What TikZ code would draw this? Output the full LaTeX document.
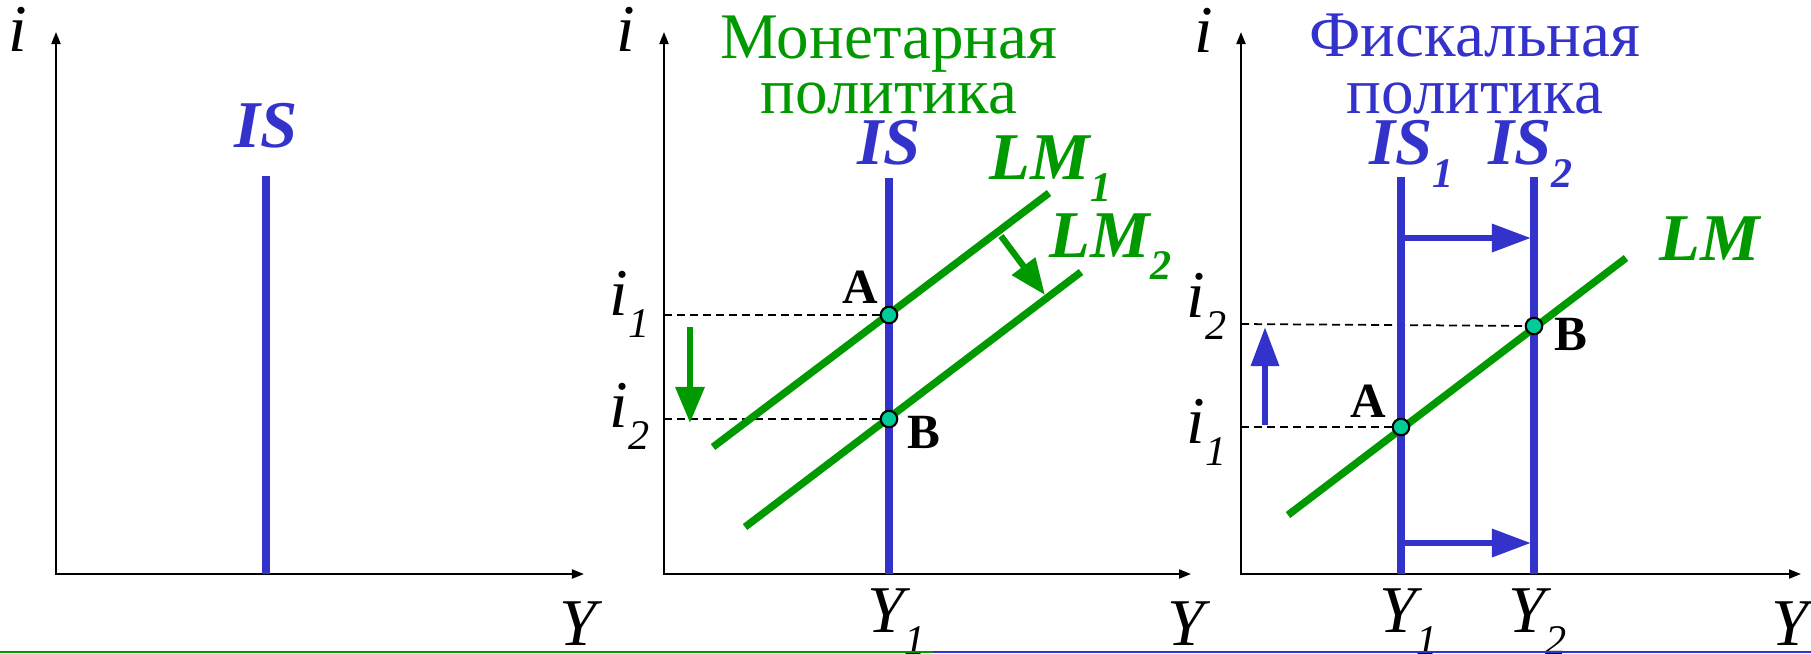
\documentclass[tikz,border=0pt]{standalone}
\usepackage{fontspec}
\setmainfont{Liberation Serif}
\usetikzlibrary{arrows.meta, positioning}
\definecolor{isblue}{HTML}{3333CC}
\definecolor{lmgreen}{HTML}{009900}
\definecolor{eqfill}{HTML}{00CC99}
\newcommand{\lowsub}[1]{\rlap{\smash{\raisebox{-6.5pt}{\fontsize{12}{12}\selectfont #1}}}}
\tikzset{
  axes/.style     = {{Triangle[length=1.2mm, width=0.9mm]}-{Triangle[length=1.2mm, width=0.9mm]}, line width=0.6pt},
  iscurve/.style  = {draw=isblue, line width=2pt},
  lmcurve/.style  = {draw=lmgreen, line width=2.1pt},
  guide/.style    = {dash pattern=on 0.8mm off 0.5mm, line width=0.5pt},
  isshift/.style  = {-{Triangle[length=3.9mm, width=2.7mm]}, draw=isblue, line width=1.8pt},
  lmshift/.style  = {-{Triangle[length=3.6mm, width=2.8mm]}, draw=lmgreen, line width=1.8pt},
  eqpt/.style     = {circle, draw=black, fill=eqfill, line width=0.6pt, inner sep=0pt, minimum size=1.65mm},
  axlbl/.style    = {font=\fontsize{19}{19}\selectfont\itshape, inner sep=0pt, anchor=base},
  curvelbl/.style = {font=\fontsize{19}{19}\selectfont\bfseries\itshape, inner sep=0pt, anchor=base},
  ptlbl/.style    = {font=\fontsize{14}{14}\selectfont\bfseries, inner sep=0pt, anchor=base},
  title/.style    = {font=\fontsize{18.5}{18.5}\selectfont, inner sep=0pt, anchor=base},
}

\begin{document}
\begin{tikzpicture}[x=0.01cm, y=-0.01cm]
    \useasboundingbox (0,0) rectangle (1811,653);
    % left panel
    \coordinate (bt) at (56,32);
    \coordinate (br) at (584,574);
    \draw[axes] (bt) |- (br);
    \node[axlbl] (bilbl) at (18,51) {i};
    \node[axlbl] (bylbl) at (578,645) {Y};
    \coordinate (bistop) at (266,176);
    \coordinate (bisbot) at (266,574);
    \draw[iscurve] (bisbot) -- (bistop);
    \node[curvelbl, text=isblue, above=2.7mm of bistop] (bislbl) {IS};

    % monetary policy
    \coordinate (mt) at (664,32);
    \coordinate (mr) at (1191,574);
    \draw[axes] (mt) |- (mr);
    \node[axlbl] (milbl) at (626,51) {i};
    \node[axlbl] (mylbl) at (1186,645) {Y};
    \node[title, text=lmgreen] (mtitle) at (889,58) {Монетарная};
    \node[title, text=lmgreen] (mtitleb) at (889,113) {политика};
    \coordinate (mA) at (889,315);
    \coordinate (mB) at (889,419);
    \coordinate (mi1) at (664,315);
    \coordinate (mi2) at (664,419);
    \draw[guide] (mi1) -- (mA);
    \draw[guide] (mi2) -- (mB);
    \coordinate (mistop) at (889,178);
    \coordinate (misbot) at (889,574);
    \draw[iscurve] (misbot) -- (mistop);
    \node[curvelbl, text=isblue, above=1.2mm of mistop] (mislbl) {IS};
    \coordinate (mlm1a) at (713,447);
    \coordinate (mlm1b) at (1049,193);
    \coordinate (mlm2a) at (745,527);
    \coordinate (mlm2b) at (1081,272);
    \draw[lmcurve] (mlm1a) -- (mlm1b);
    \draw[lmcurve] (mlm2a) -- (mlm2b);
    \node[curvelbl, text=lmgreen] (mlm1lbl) at (1040,179) {LM\lowsub{1}};
    \node[curvelbl, text=lmgreen] (mlm2lbl) at (1100,257) {LM\lowsub{2}};
    \coordinate (mshfa) at (1001,236);
    \coordinate (mshfb) at (1045,295);
    \draw[lmshift] (mshfa) -- (mshfb);
    \coordinate (mdna) at (690,327);
    \coordinate (mdnb) at (690,423);
    \draw[lmshift] (mdna) -- (mdnb);
    \node[axlbl] (mi1lbl) at (619,315) {i\lowsub{1}};
    \node[axlbl] (mi2lbl) at (619,427) {i\lowsub{2}};
    \node[axlbl] (my1lbl) at (886,632) {Y\lowsub{1}};
    \node[eqpt] (mptA) at (mA) {};
    \node[eqpt] (mptB) at (mB) {};
    \node[ptlbl] (mAlbl) at (860,303) {A};
    \node[ptlbl] (mBlbl) at (924,448) {B};

    % fiscal policy
    \coordinate (ft) at (1241,32);
    \coordinate (fr) at (1801,574);
    \draw[axes] (ft) |- (fr);
    \node[axlbl] (filbl) at (1204,52) {i};
    \node[axlbl] (fylbl) at (1790,645) {Y};
    \node[title, text=isblue] (ftitle) at (1475,56) {Фискальная};
    \node[title, text=isblue] (ftitleb) at (1475,113) {политика};
    \coordinate (fA) at (1401,427);
    \coordinate (fB) at (1534,326);
    \coordinate (fi1) at (1241,427);
    \coordinate (fi2) at (1241,324);
    \draw[guide] (fi1) -- (fA);
    \draw[guide] (fi2) -- (fB);
    \coordinate (fis1top) at (1401,177);
    \coordinate (fis1bot) at (1401,574);
    \coordinate (fis2top) at (1534,177);
    \coordinate (fis2bot) at (1534,574);
    \draw[iscurve] (fis1bot) -- (fis1top);
    \draw[iscurve] (fis2bot) -- (fis2top);
    \node[curvelbl, text=isblue, above=1.1mm of fis1top] (fis1lbl) {IS\lowsub{1}};
    \node[curvelbl, text=isblue, above=1.1mm of fis2top, xshift=-4] (fis2lbl) {IS\lowsub{2}};
    \coordinate (fuppa) at (1404,238);
    \coordinate (fuppb) at (1531,238);
    \coordinate (flowa) at (1404,543);
    \coordinate (flowb) at (1531,543);
    \draw[isshift] (fuppa) -- (fuppb);
    \draw[isshift] (flowa) -- (flowb);
    \coordinate (flma) at (1288,515);
    \coordinate (flmb) at (1626,258);
    \draw[lmcurve] (flma) -- (flmb);
    \node[curvelbl, text=lmgreen] (flmlbl) at (1710,260) {LM};
    \coordinate (fupa) at (1265,425);
    \coordinate (fupb) at (1265,327);
    \draw[isshift] (fupa) -- (fupb);
    \node[axlbl] (fi2lbl) at (1196,317) {i\lowsub{2}};
    \node[axlbl] (fi1lbl) at (1196,443) {i\lowsub{1}};
    \node[axlbl] (fy1lbl) at (1398,632) {Y\lowsub{1}};
    \node[axlbl] (fy2lbl) at (1527,632) {Y\lowsub{2}};
    \node[eqpt] (fptA) at (fA) {};
    \node[eqpt] (fptB) at (fB) {};
    \node[ptlbl] (fAlbl) at (1368,417) {A};
    \node[ptlbl] (fBlbl) at (1571,350) {B};

    % bottom rule
    \coordinate (rl0) at (0,652);
    \coordinate (rl1) at (933,652);
    \coordinate (rl2) at (1811,652);
    \draw[lmgreen, line width=0.6pt] (rl0) -- (rl1);
    \draw[isblue, line width=0.6pt] (rl1) -- (rl2);
\end{tikzpicture}
\end{document}
